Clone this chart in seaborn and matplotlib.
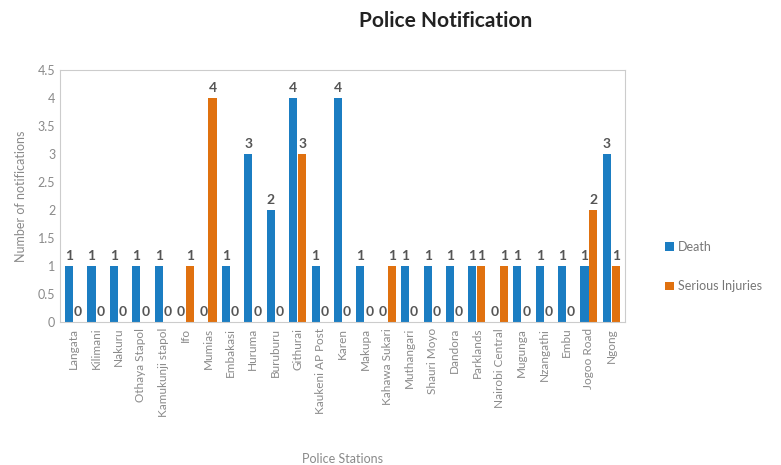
import matplotlib
matplotlib.use("Agg")
import matplotlib.pyplot as plt
import seaborn as sns
import pandas as pd

stations = ["Langata", "Kilimani", "Nakuru", "Othaya Stapol", "Kamukunji stapol", "Ifo",
            "Mumias", "Embakasi", "Huruma", "Buruburu", "Githurai", "Kaukeni AP Post",
            "Karen", "Makupa", "Kahawa Sukari", "Muthangari", "Shauri Moyo", "Dandora",
            "Parklands", "Nairobi Central", "Mugunga", "Nzangathi", "Embu", "Jogoo Road", "Ngong"]
death = [1, 1, 1, 1, 1, 0, 0, 1, 3, 2, 4, 1, 4, 1, 0, 1, 1, 1, 1, 0, 1, 1, 1, 1, 3]
serious = [0, 0, 0, 0, 0, 1, 4, 0, 0, 0, 3, 0, 0, 0, 1, 0, 0, 0, 1, 1, 0, 0, 0, 2, 1]
series = ["Death", "Serious Injuries"]
colors = ["#1b7dc2", "#e0710f"]

df = pd.DataFrame({
    "Station": stations * 2,
    "Series": [series[0]] * len(stations) + [series[1]] * len(stations),
    "Value": death + serious,
})

sns.set_theme(style="white")
plt.rcParams["font.family"] = ["Lato", "DejaVu Sans"]

fig = plt.figure(figsize=(7.81, 4.65), dpi=100)
ax = fig.add_axes([0.077, 0.307, 0.723, 0.543])

sns.barplot(data=df, x="Station", y="Value", hue="Series", palette=colors,
            width=0.8, gap=0.1, ax=ax, saturation=1, edgecolor="none")

for c in ax.containers:
    labels = ["%d" % b.get_height() for b in c]
    ax.bar_label(c, labels=labels, fontsize=10, color="#555555", padding=3, fontweight="bold")

ax.set_ylim(0, 4.5)
ax.set_yticks([0, 0.5, 1, 1.5, 2, 2.5, 3, 3.5, 4, 4.5])
ax.set_yticklabels(["0", "0.5", "1", "1.5", "2", "2.5", "3", "3.5", "4", "4.5"])
ax.set_xlim(-0.6, len(stations) - 0.4)
ax.tick_params(axis="x", labelrotation=90, labelsize=8.5, colors="#8a8a8a", length=0, pad=4)
ax.tick_params(axis="y", labelsize=9, colors="#8a8a8a", length=0)
ax.set_xlabel("Police Stations", fontsize=9, color="#8a8a8a", labelpad=26)
ax.set_ylabel("Number of notifications", fontsize=9, color="#8a8a8a", labelpad=8)
for s in ax.spines.values():
    s.set_color("#cccccc")
    s.set_linewidth(0.8)

leg = ax.legend(loc="center left", bbox_to_anchor=(1.072, 0.22), frameon=False,
                fontsize=9, handlelength=0.7, handleheight=0.7, labelspacing=2.2,
                handletextpad=0.3, borderaxespad=0, borderpad=0)
for t in leg.get_texts():
    t.set_color("#777777")

fig.text(0.57, 0.955, "Police Notification", ha="center", va="center",
         fontsize=15, fontweight="bold", color="#222222")

fig.savefig("out.png", dpi=100)
